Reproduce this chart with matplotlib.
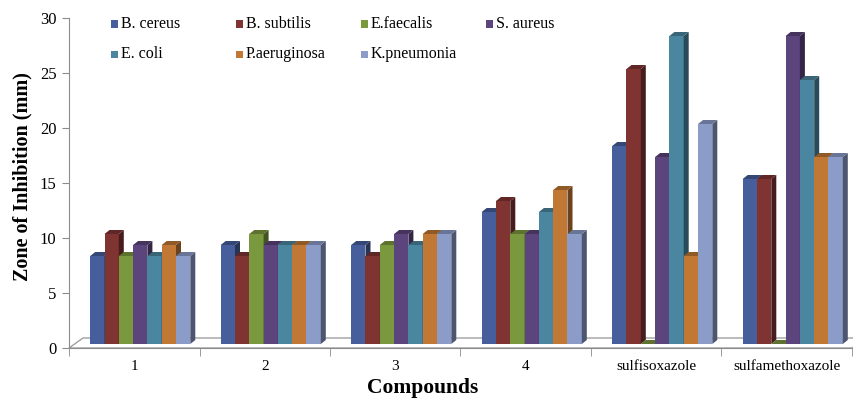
import numpy as np
import matplotlib
matplotlib.use("Agg")
import matplotlib.pyplot as plt
from matplotlib.patches import Polygon, Rectangle
from matplotlib.transforms import ScaledTranslation

# zone of inhibition (mm) per compound and organism
compounds = ["1", "2", "3", "4", "sulfisoxazole", "sulfamethoxazole"]
organisms = ["B. cereus", "B. subtilis", "E.faecalis", "S. aureus",
             "E. coli", "P.aeruginosa", "K.pneumonia"]
b_cereus = [8, 9, 9, 12, 18, 15]
b_subtilis = [10, 8, 8, 13, 25, 15]
e_faecalis = [8, 10, 9, 10, 0, 0]
s_aureus = [9, 9, 10, 10, 17, 28]
e_coli = [8, 9, 9, 12, 28, 24]
p_aeruginosa = [9, 9, 10, 14, 8, 17]
k_pneumonia = [8, 9, 10, 10, 20, 17]
series = [b_cereus, b_subtilis, e_faecalis, s_aureus, e_coli, p_aeruginosa, k_pneumonia]

colors = ["#465E9B", "#803432", "#7A983D", "#5C447D", "#4B86A0", "#C07834", "#8C9CC8"]

plt.rcParams["font.family"] = ["Liberation Serif", "DejaVu Serif"]

W, H, DPI = 854, 399, 100
fig = plt.figure(figsize=(W / DPI, H / DPI), dpi=DPI)
ax_left, ax_right, ax_bottom, ax_top = 69, 852, 348, 18
ax = fig.add_axes([ax_left / W, 1 - ax_bottom / H,
                   (ax_right - ax_left) / W, (ax_bottom - ax_top) / H])
ax.set_xlim(-0.5, len(compounds) - 0.5)
ax.set_ylim(0, 30)

px_x = (ax_right - ax_left) / len(compounds)   # pixels per x unit
px_y = (ax_bottom - ax_top) / 30.0             # pixels per y unit

# floor of the 3D plot
floor_dx, floor_dy = 14 / px_x, 10 / px_y
floor = Polygon([(-0.5, 0), (5.5, 0), (5.5 + floor_dx, floor_dy), (-0.5 + floor_dx, floor_dy)],
                closed=True, facecolor="white", edgecolor="#A0A0A0", lw=1.0,
                clip_on=False, zorder=1)
ax.add_patch(floor)

# bars sit a little back from the front edge of the floor
shift = ax.transData + ScaledTranslation(6 / DPI, 4 / DPI, fig.dpi_scale_trans)
bw = 14.3 / px_x
ddx, ddy = 5 / px_x, 4 / px_y


def shade(c, f):
    rgb = np.array(matplotlib.colors.to_rgb(c))
    return tuple(rgb * f)


z = 2
for i in range(len(compounds)):
    for j, vals in enumerate(series):
        v = vals[i]
        x0 = i - 3.5 * bw + j * bw
        col = colors[j]
        ax.add_patch(Rectangle((x0, 0), bw, v, facecolor=col, edgecolor="none",
                               transform=shift, clip_on=False, zorder=z))
        ax.add_patch(Polygon([(x0 + bw, 0), (x0 + bw, v), (x0 + bw + ddx, v + ddy),
                              (x0 + bw + ddx, ddy)], closed=True,
                             facecolor=shade(col, 0.55), edgecolor="none",
                             transform=shift, clip_on=False, zorder=z))
        ax.add_patch(Polygon([(x0, v), (x0 + bw, v), (x0 + bw + ddx, v + ddy),
                              (x0 + ddx, v + ddy)], closed=True,
                             facecolor=shade(col, 0.75), edgecolor="none",
                             transform=shift, clip_on=False, zorder=z))
        z += 1

# axes styling
axis_grey = "#8C8C8C"
for s in ["top", "right"]:
    ax.spines[s].set_visible(False)
for s in ["left", "bottom"]:
    ax.spines[s].set_color(axis_grey)
    ax.spines[s].set_zorder(z + 1)
ax.set_yticks(np.arange(0, 31, 5))
ax.tick_params(axis="y", length=5, color=axis_grey, labelsize=12, pad=4)
ax.set_xticks(range(len(compounds)))
ax.set_xticklabels(compounds, fontsize=11)
ax.set_xticks(np.arange(-0.5, len(compounds), 1.0), minor=True)
ax.tick_params(axis="x", which="major", length=0, pad=9)
ax.tick_params(axis="x", which="minor", length=6, color=axis_grey)
ax.patch.set_visible(False)

# axis titles
fig.text(22 / W, 1 - 177 / H, "Zone of Inhibition (mm)", rotation=90,
         fontsize=14.5, fontweight="bold", ha="center", va="center")
fig.text(423 / W, 1 - 388 / H, "Compounds", fontsize=15.5, fontweight="bold",
         ha="center", va="center")

# legend in two rows of four fixed-width columns
for k, name in enumerate(organisms):
    row, colidx = divmod(k, 4)
    lx = (111 + 125 * colidx) / W
    ly = 1 - (24 + 30 * row) / H
    fig.patches.append(Rectangle((lx, ly - 3.5 / H), 7 / W, 7 / H, facecolor=colors[k],
                                 edgecolor="none", transform=fig.transFigure))
    fig.text(lx + 10 / W, ly, name, fontsize=11.5, va="center", ha="left")

fig.savefig("out.png", dpi=DPI)
